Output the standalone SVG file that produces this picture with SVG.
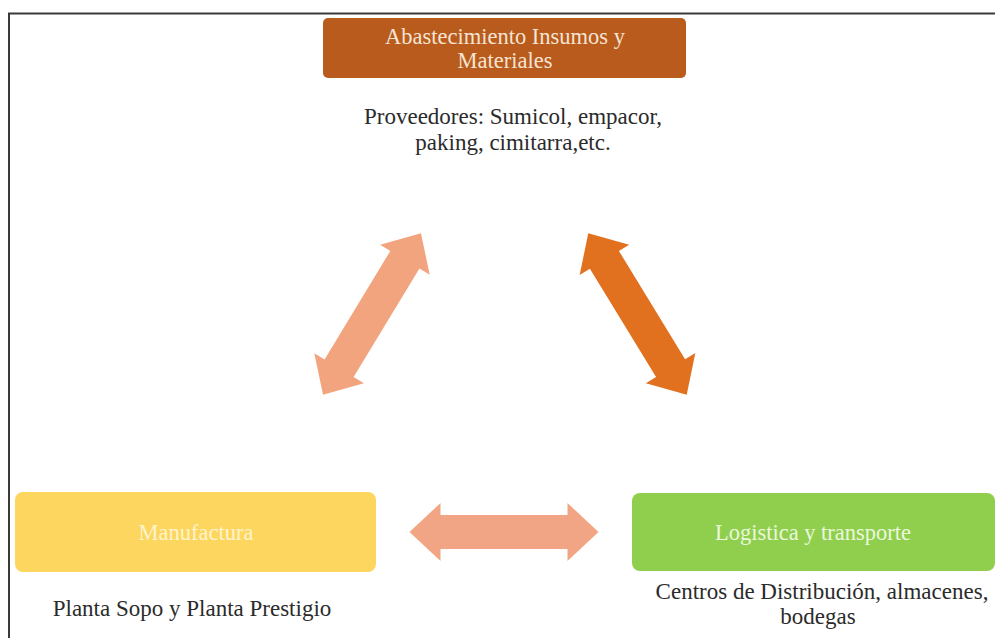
<svg xmlns="http://www.w3.org/2000/svg" xmlns:xlink="http://www.w3.org/1999/xlink" width="995" height="638" viewBox="0 0 995 638">
  <style>
    .lbl { font-family: "Liberation Serif", "Times New Roman", serif; font-size: 22.5px; text-anchor: middle; }
    .note { font-family: "Liberation Serif", "Times New Roman", serif; font-size: 23px; fill: #2b2b2b; text-anchor: middle; }
    .frame { fill: none; stroke: #3a3a3a; stroke-width: 2; }
  </style>
  <defs>
    <!-- double-headed block arrow, centred on the origin, pointing along x -->
    <path id="dblArrow" d="M -94.5 0 L -63.5 -29 L -63.5 -17 L 63.5 -17 L 63.5 -29 L 94.5 0 L 63.5 29 L 63.5 17 L -63.5 17 L -63.5 29 Z"/>
  </defs>

  <rect width="995" height="638" fill="#ffffff"/>
  <!-- page frame: top and left edges -->
  <path class="frame" d="M 9 638 L 9 13.5 L 995 13.5"/>

  <g id="connectors">
    <use xlink:href="#dblArrow" href="#dblArrow" transform="translate(372 314) rotate(-58.8)" fill="#F2A47F"/>
    <use xlink:href="#dblArrow" href="#dblArrow" transform="translate(637.5 314) rotate(58.6)" fill="#E2711F"/>
    <use xlink:href="#dblArrow" href="#dblArrow" transform="translate(504 532)" fill="#F2A584"/>
  </g>

  <g id="abastecimiento">
    <rect x="323" y="18" width="363" height="60" rx="5" fill="#B85B1C"/>
    <text class="lbl" x="505" y="44" font-size="21" fill="#F6E4D4">Abastecimiento  Insumos y</text>
    <text class="lbl" x="505" y="68" font-size="21" fill="#F6E4D4">Materiales</text>
    <text class="note" x="513" y="124">Proveedores: Sumicol, empacor,</text>
    <text class="note" x="513" y="150">paking, cimitarra,etc.</text>
  </g>

  <g id="manufactura">
    <rect x="15" y="492" width="361" height="80" rx="8" fill="#FDD660"/>
    <text class="lbl" x="196" y="540" fill="#FFF4CC">Manufactura</text>
    <text class="note" x="192" y="616">Planta Sopo y Planta Prestigio</text>
  </g>

  <g id="logistica">
    <rect x="632" y="493" width="363" height="78" rx="8" fill="#90CF4E"/>
    <text class="lbl" x="813" y="540" fill="#EAF8DC">Logistica  y transporte</text>
    <text class="note" x="822" y="599">Centros de Distribución, almacenes,</text>
    <text class="note" x="818" y="624">bodegas</text>
  </g>
</svg>
